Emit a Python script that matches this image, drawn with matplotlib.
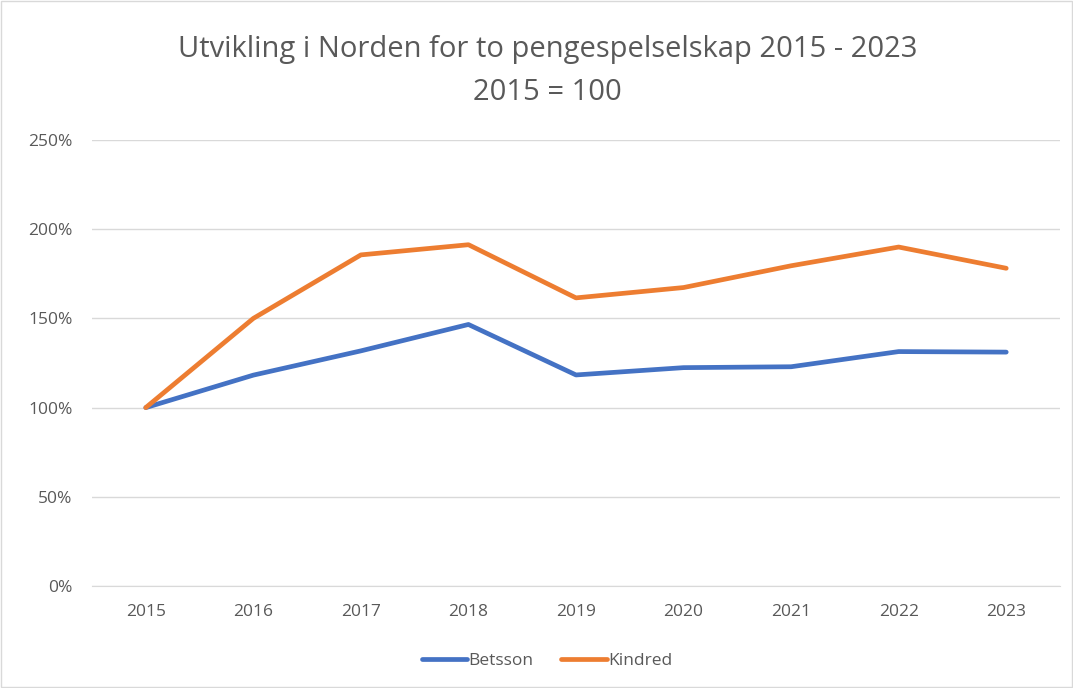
import numpy as np
import matplotlib.pyplot as plt
from matplotlib.patches import Rectangle

years = ['2015', '2016', '2017', '2018', '2019', '2020', '2021', '2022', '2023']
betsson = [100, 118.2, 131.8, 146.6, 118.3, 122.4, 122.9, 131.4, 131.1]
kindred = [100, 150.0, 185.6, 191.3, 161.5, 167.3, 179.5, 190.0, 178.1]
yticks = [0, 50, 100, 150, 200, 250]

plt.rcParams['font.family'] = ['Open Sans', 'DejaVu Sans']
grey = '#595959'

fig = plt.figure(figsize=(10.73, 6.88), dpi=100)
ax = fig.add_axes([92 / 1073, 1 - 586 / 688, (1060 - 92) / 1073, (586 - 140) / 688])

x = np.arange(len(years))
ax.plot(x, betsson, color='#4472C4', lw=3.4, solid_capstyle='round', solid_joinstyle='round', label='Betsson')
ax.plot(x, kindred, color='#ED7D31', lw=3.4, solid_capstyle='round', solid_joinstyle='round', label='Kindred')

ax.set_xlim(-0.5, len(years) - 0.5)
ax.set_ylim(0, 250)
ax.set_yticks(yticks)
ax.set_yticklabels([f'{v}%' for v in yticks])
ax.set_xticks(x)
ax.set_xticklabels(years)
ax.tick_params(length=0, labelsize=12.5, colors=grey, pad=13)
ax.tick_params(axis='y', pad=14)
ax.grid(axis='y', color='#D9D9D9', lw=1)
ax.set_axisbelow(True)
for s in ['top', 'right', 'left']:
    ax.spines[s].set_visible(False)
ax.spines['bottom'].set_color('#D9D9D9')

fig.text(0.51, 1 - 50 / 688, 'Utvikling i Norden for to pengespelselskap 2015 - 2023',
         ha='center', va='center', fontsize=21, color=grey)
fig.text(0.51, 1 - 93 / 688, '2015 = 100', ha='center', va='center', fontsize=21, color=grey)

fig.legend(loc='center', bbox_to_anchor=(0.51, 1 - 661 / 688), ncol=2, frameon=False,
           fontsize=12.5, labelcolor=grey, handlelength=2.6, handletextpad=0.1, columnspacing=1.6)

fig.patches.append(Rectangle((1 / 1073, 1 / 688), 1071 / 1073, 686 / 688, transform=fig.transFigure,
                             fill=False, edgecolor='#D9D9D9', lw=1))

fig.savefig('out.png', dpi=100)
